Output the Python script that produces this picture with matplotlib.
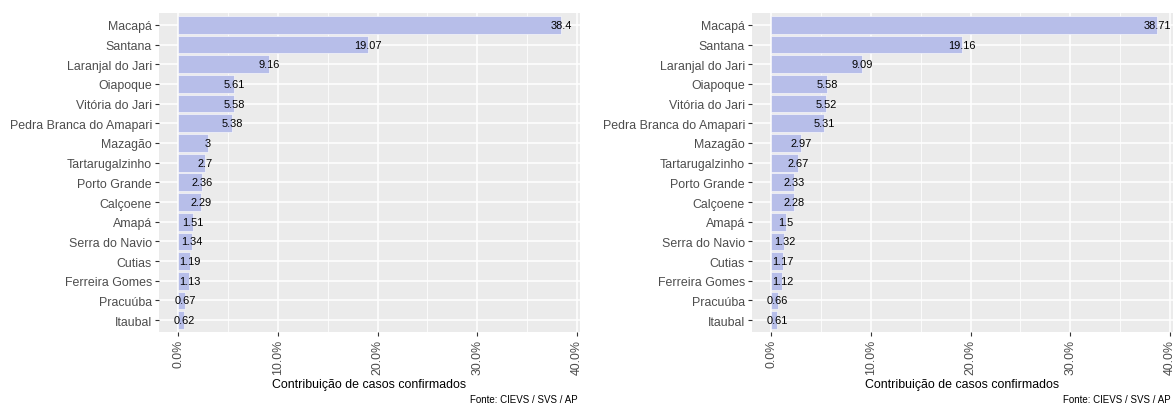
import matplotlib
matplotlib.use('Agg')
import matplotlib.pyplot as plt
from matplotlib.ticker import MultipleLocator, FuncFormatter

plt.rcParams['font.family'] = ['Liberation Sans', 'DejaVu Sans']

# Municipios (top to bottom) and their share of confirmed cases (%)
municipios = ['Macapá', 'Santana', 'Laranjal do Jari', 'Oiapoque', 'Vitória do Jari',
              'Pedra Branca do Amapari', 'Mazagão', 'Tartarugalzinho', 'Porto Grande',
              'Calçoene', 'Amapá', 'Serra do Navio', 'Cutias', 'Ferreira Gomes',
              'Pracuúba', 'Itaubal']
contrib_esq = [38.4, 19.07, 9.16, 5.61, 5.58, 5.38, 3, 2.7, 2.36, 2.29,
               1.51, 1.34, 1.19, 1.13, 0.67, 0.62]
contrib_dir = [38.71, 19.16, 9.09, 5.58, 5.52, 5.31, 2.97, 2.67, 2.33, 2.28,
               1.5, 1.32, 1.17, 1.12, 0.66, 0.61]
x_titulo = 'Contribuição de casos confirmados'
fonte = 'Fonte: CIEVS / SVS / AP'

W, H = 1173, 406
fig = plt.figure(figsize=(W / 100, H / 100), dpi=100)

bar_color = '#b7bee9'
# panel boxes in pixels: left, right, top, bottom
panels = [(159, 580, 14, 333, contrib_esq), (752, 1173, 14, 333, contrib_dir)]

for (l, r, t, b, vals) in panels:
    ax = fig.add_axes([l / W, 1 - b / H, (r - l) / W, (b - t) / H])
    ax.set_facecolor('#ebebeb')
    n = len(municipios)
    ypos = list(range(n))
    ax.barh(ypos, vals, height=0.9, color=bar_color, edgecolor='white', linewidth=0.4, zorder=2)
    for y, v in zip(ypos, vals):
        ax.text(v, y, f'{v:g}', ha='center', va='center', fontsize=7.9, color='black', zorder=3)
    ax.set_yticks(ypos)
    ax.set_yticklabels(municipios)
    ax.set_ylim(n - 0.4, -0.6)
    ax.set_xlim(-1.92, 40.3)
    ax.xaxis.set_major_locator(MultipleLocator(10))
    ax.xaxis.set_minor_locator(MultipleLocator(5))
    ax.xaxis.set_major_formatter(FuncFormatter(lambda x, p: f'{x:.1f}%'))
    ax.grid(which='major', color='white', linewidth=1.1, zorder=0)
    ax.grid(which='minor', axis='x', color='white', linewidth=0.55, zorder=0)
    ax.set_axisbelow(True)
    for s in ax.spines.values():
        s.set_visible(False)
    ax.tick_params(axis='both', which='major', length=3, width=0.8, color='#333333',
                   labelcolor='#4d4d4d', labelsize=8.9, pad=2)
    ax.tick_params(axis='x', which='minor', length=0)
    for lab in ax.get_xticklabels():
        lab.set_rotation(90)
        lab.set_va('top')
        lab.set_ha('center')
    ax.set_xlabel(x_titulo, fontsize=8.9, color='black', labelpad=3)
    fig.text((r - 2) / W, 1 - 400 / H, fonte, ha='right', va='center', fontsize=7, color='black')

fig.savefig('out.png', dpi=100)
